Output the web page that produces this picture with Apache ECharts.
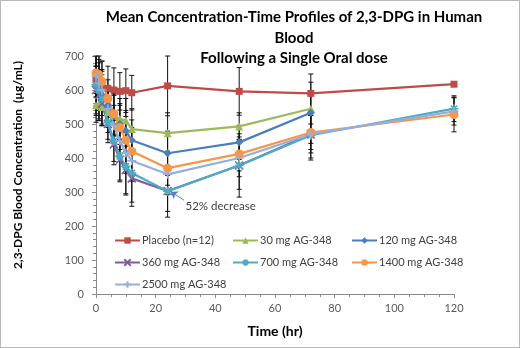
<!DOCTYPE html>
<html>
<head>
<meta charset="utf-8">
<script src="https://cdn.jsdelivr.net/npm/echarts@6/dist/echarts.min.js"></script>
<style>
  html, body { margin: 0; padding: 0; background: #fff; }
  #chart { width: 520px; height: 348px; box-sizing: border-box; border: 1px solid #b8b8b8; }
</style>
</head>
<body>
<div id="chart"></div>
<script>
  // sampling times (hr)
  const times = [0, 1, 2, 4, 6, 8, 10, 12, 24, 48, 72, 120];
  const seriesNames = ['Placebo (n=12)', '30 mg AG-348', '120 mg AG-348', '360 mg AG-348', '700 mg AG-348', '1400 mg AG-348', '2500 mg AG-348'];

  // mean concentration (µg/mL)
  const placebo = [630, 625, 615, 605, 600, 596, 598, 592, 612, 596, 590, 617];
  const mg30 = [555, 560, 550, 535, 525, 515, 510, 485, 473, 493, 545, null];
  const mg120 = [610, 600, 585, 555, 525, 500, 480, 452, 414, 446, 533, null];
  const mg360 = [600, 585, 560, 500, 440, 395, 365, 340, 303, 378, 470, null];
  const mg700 = [615, 600, 575, 505, 450, 405, 375, 356, 302, 378, 467, 545];
  const mg1400 = [650, 645, 625, 575, 530, 490, 452, 420, 370, 412, 475, 528];
  const mg2500 = [640, 620, 600, 545, 495, 450, 415, 392, 352, 400, 470, 537];

  // standard deviations
  const sdPlacebo = [75, 75, 70, 65, 65, 55, 64, 51, 88, 70, 57, 0];
  const sd30 = [50, 50, 55, 60, 60, 60, 65, 60, 60, 40, 45, 0];
  const sd120 = [60, 60, 60, 55, 60, 60, 60, 60, 65, 50, 90, 0];
  const sd360 = [70, 70, 60, 55, 60, 60, 70, 70, 60, 70, 70, 0];
  const sd700 = [90, 90, 80, 50, 60, 75, 84, 98, 76, 93, 73, 38];
  const sd1400 = [60, 60, 60, 55, 60, 65, 70, 70, 50, 50, 50, 51];
  const sd2500 = [60, 60, 60, 55, 60, 60, 60, 60, 60, 55, 55, 40];

  const yTicks = [0, 100, 200, 300, 400, 500, 600, 700];
  const xTicks = [0, 20, 40, 60, 80, 100, 120];

  const means = [placebo, mg30, mg120, mg360, mg700, mg1400, mg2500];
  const sds = [sdPlacebo, sd30, sd120, sd360, sd700, sd1400, sd2500];
  const colors = ['#BE4B48', '#9BBB59', '#4A7EBB', '#7D5FA0', '#4BACC6', '#F79646', '#98AEDA'];
  const symbols = [
    'rect',
    'triangle',
    'diamond',
    'path://M0,0L10,10M10,0L0,10',
    'path://M5,0L5,10M0,5L10,5M1.5,1.5L8.5,8.5M8.5,1.5L1.5,8.5',
    'circle',
    'path://M5,0L5,10M0,5L10,5'
  ];
  const symbolSizes = [7, 8, 8, 8, 9, 9, 9];
  const lineIcon = [false, false, false, true, true, false, true];

  const yMax = 700;
  const font = 'Lato, "Open Sans", sans-serif';

  const lineSeries = means.map((vals, i) => {
    const s = {
      name: seriesNames[i],
      type: 'line',
      z: 3,
      data: times.map((t, k) => [t, vals[k]]).filter(d => d[1] != null),
      symbol: symbols[i],
      symbolSize: symbolSizes[i],
      showSymbol: true,
      lineStyle: { color: colors[i], width: 2.2 },
      itemStyle: lineIcon[i]
        ? { color: colors[i], borderColor: colors[i], borderWidth: 1.6 }
        : { color: colors[i] },
      emphasis: { disabled: true },
      animation: false
    };
    return s;
  });

  // annotation on the 700 mg line
  lineSeries[4].markLine = {
    silent: true,
    symbol: ['none', 'arrow'],
    symbolSize: 7,
    label: { show: false },
    lineStyle: { color: '#4F81BD', width: 1, type: 'solid' },
    data: [[{ coord: [29.5, 276] }, { coord: [25, 301] }]]
  };
  lineSeries[4].markPoint = {
    silent: true,
    symbol: 'circle',
    symbolSize: 0,
    label: {
      show: true, position: 'right', distance: 0,
      formatter: '52% decrease', color: '#404040', fontSize: 11.5, fontFamily: font
    },
    data: [{ coord: [30, 259] }]
  };

  const errorSeries = means.map((vals, i) => ({
    type: 'custom',
    z: 2,
    silent: true,
    animation: false,
    data: times.map((t, k) => [t, vals[k], sds[i][k]]).filter(d => d[1] != null && d[2] > 0),
    renderItem: function (params, api) {
      const t = api.value(0), m = api.value(1), sd = api.value(2);
      const hi = api.coord([t, Math.min(m + sd, yMax)]);
      const lo = api.coord([t, Math.max(m - sd, 0)]);
      const w = 2.5;
      const st = { stroke: '#111', lineWidth: 1 };
      const kids = [
        { type: 'line', shape: { x1: hi[0], y1: hi[1], x2: lo[0], y2: lo[1] }, style: st },
        { type: 'line', shape: { x1: lo[0] - w, y1: lo[1], x2: lo[0] + w, y2: lo[1] }, style: st }
      ];
      if (m + sd <= yMax) {
        kids.push({ type: 'line', shape: { x1: hi[0] - w, y1: hi[1], x2: hi[0] + w, y2: hi[1] }, style: st });
      }
      return { type: 'group', children: kids };
    }
  }));

  const legendLeft = [108, 226, 345];
  const legendTop = [229, 251, 273];
  const legends = seriesNames.map((n, i) => ({
    data: [n],
    left: legendLeft[i % 3],
    top: legendTop[Math.floor(i / 3)],
    itemWidth: 25,
    itemHeight: 8,
    itemGap: 3,
    selectedMode: false,
    textStyle: { color: '#404040', fontSize: 11, fontFamily: font, padding: [0, 0, 0, -3] }
  }));

  const chart = echarts.init(document.getElementById('chart'), null, { renderer: 'canvas' });
  chart.setOption({
    animation: false,
    backgroundColor: '#fff',
    title: {
      text: 'Mean Concentration-Time Profiles of 2,3-DPG in Human\nBlood\nFollowing a Single Oral dose',
      left: 288,
      top: 1,
      textAlign: 'center',
      textStyle: { fontFamily: font, fontWeight: 'bold', fontSize: 15, color: '#000', lineHeight: 20.5 }
    },
    legend: legends,
    grid: { left: 95, right: 65, top: 55, bottom: 53 },
    xAxis: {
      type: 'value',
      min: xTicks[0],
      max: xTicks[xTicks.length - 1],
      interval: 20,
      name: 'Time (hr)',
      nameLocation: 'middle',
      nameGap: 30,
      nameTextStyle: { fontFamily: font, fontWeight: 'bold', fontSize: 14, color: '#000' },
      axisLine: { lineStyle: { color: '#8a8a8a' } },
      axisTick: { show: true, length: 4, lineStyle: { color: '#8a8a8a' } },
      minorTick: { show: true, splitNumber: 4, length: 3, lineStyle: { color: '#8a8a8a' } },
      axisLabel: { color: '#595959', fontSize: 11, fontFamily: font, margin: 9 },
      splitLine: { show: false }
    },
    yAxis: {
      type: 'value',
      min: yTicks[0],
      max: yTicks[yTicks.length - 1],
      interval: 100,
      name: '2,3-DPG Blood Concentration  (µg/mL)',
      nameLocation: 'middle',
      nameGap: 72,
      nameTextStyle: { fontFamily: font, fontWeight: 'bold', fontSize: 12, color: '#000', padding: [0, 0, 0, 20] },
      axisLine: { show: true, lineStyle: { color: '#8a8a8a' } },
      axisTick: { show: true, length: 4, lineStyle: { color: '#8a8a8a' } },
      minorTick: { show: true, splitNumber: 5, length: 3, lineStyle: { color: '#8a8a8a' } },
      axisLabel: { color: '#595959', fontSize: 11, fontFamily: font, margin: 12 },
      splitLine: { show: false }
    },
    series: errorSeries.concat(lineSeries)
  });
</script>
</body>
</html>
